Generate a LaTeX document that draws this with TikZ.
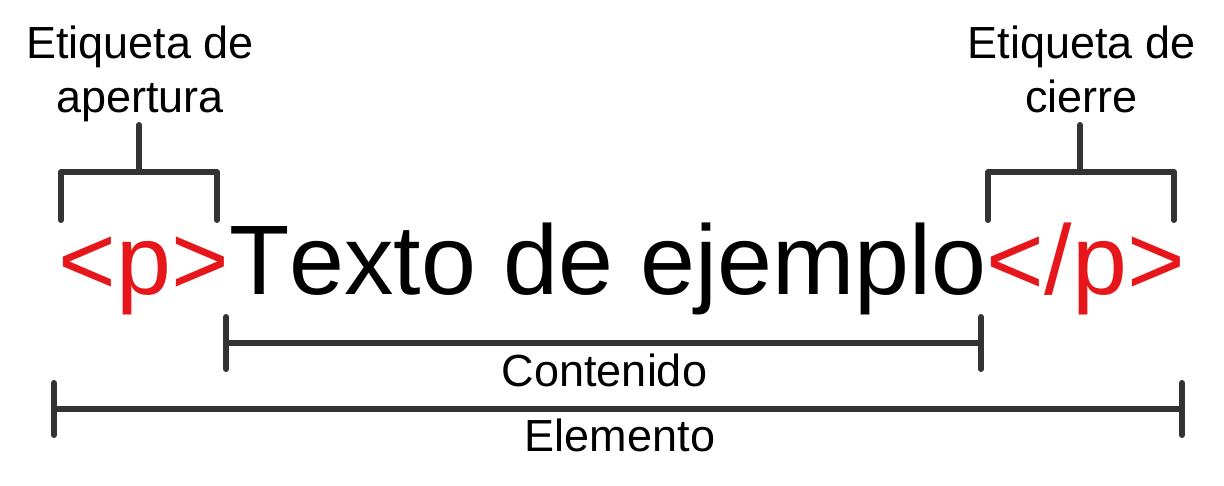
\documentclass[tikz,border=0pt]{standalone}
\usepackage{fontspec}
\setmainfont[Kerning=Off]{Liberation Sans}
\definecolor{linegray}{RGB}{51,51,51}
\definecolor{tagred}{RGB}{230,22,26}
\begin{document}
\begin{tikzpicture}[x=1pt,y=-1pt,
  bar/.style={draw=linegray,line width=6pt,line cap=round,line join=round},
  lbl/.style={font=\fontsize{45}{54}\selectfont,inner sep=0pt,align=center},
  big/.style={font=\fontsize{98.8}{110}\selectfont,inner sep=0pt}]
\useasboundingbox (0,0) rectangle (1224,486);
% labels
\node[lbl,anchor=north] (open) at (140,26) {Etiqueta de\\apertura};
\node[lbl,anchor=north] (close) at (1081.5,26) {Etiqueta de\\cierre};
% opening bracket
\coordinate (oa) at (61,220);
\coordinate (ob) at (217,220);
\coordinate (os) at (139,172);
\coordinate (ot) at (139,125);
\draw[bar] (oa) -- ++(0,-48) -| (ob);
\draw[bar] (os) -- (ot);
% closing bracket
\coordinate (ca) at (988,220);
\coordinate (cb) at (1174,220);
\coordinate (cs) at (1080,172);
\coordinate (ct) at (1080,125);
\draw[bar] (ca) -- ++(0,-48) -| (cb);
\draw[bar] (cs) -- (ct);
% main text
\node[big,anchor=base west] (main) at (58.5,295)
  {\textcolor{tagred}{<p>}Texto de ejemplo\textcolor{tagred}{</p>}};
% contenido
\coordinate (c1) at (226,343);
\coordinate (c2) at (981,343);
\draw[bar] (226,317) -- (226,369);
\draw[bar] (981,317) -- (981,369);
\draw[bar] (c1) -- (c2);
\node[lbl,anchor=base] (cont) at (604.5,386) {Contenido};
% elemento
\coordinate (e1) at (54,409);
\coordinate (e2) at (1182,409);
\draw[bar] (54,383) -- (54,435);
\draw[bar] (1182,383) -- (1182,435);
\draw[bar] (e1) -- (e2);
\node[lbl,anchor=base] (elem) at (620,451.7) {Elemento};
\end{tikzpicture}
\end{document}
